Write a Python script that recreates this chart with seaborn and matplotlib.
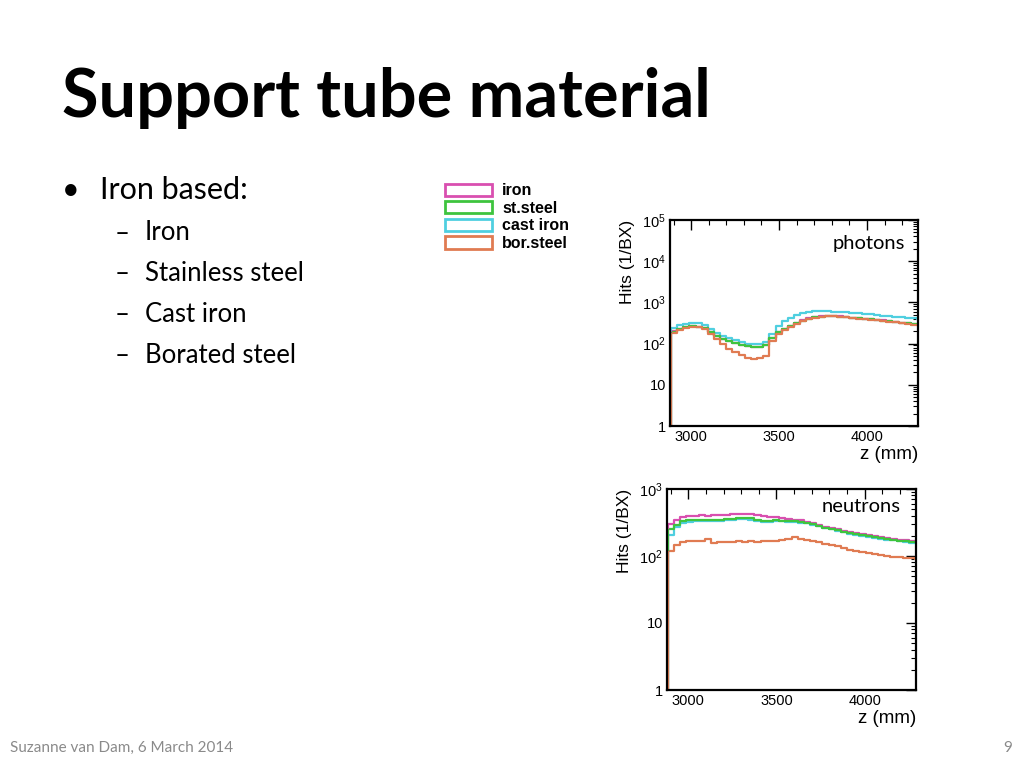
import numpy as np
import pandas as pd
import matplotlib
matplotlib.use("Agg")
import matplotlib.pyplot as plt
import matplotlib.ticker as mticker
from matplotlib.patches import Patch
import seaborn as sns

# ---------------- data ----------------
materials = ["iron", "st.steel", "cast iron", "bor.steel"]
colors = ["#d94fb0", "#3ec43e", "#4fcfe0", "#e07b52"]
draw_order = ["cast iron", "iron", "st.steel", "bor.steel"]

# bin edges in z (mm): 41 bins of 35 mm starting at 2885
bin_width = 35
bin_start = 2885
n_bins = 41

photons_iron = [200, 232, 258, 265, 260, 243, 195, 152, 131, 115, 102, 93, 87, 84, 85, 93,
                136, 190, 230, 270, 315, 365, 408, 438, 458, 468, 465, 456, 442, 428, 416,
                406, 392, 378, 364, 352, 338, 324, 312, 300, 294]
photons_ststeel = [195, 228, 255, 262, 258, 240, 192, 150, 130, 114, 101, 92, 86, 83, 84, 92,
                   135, 188, 228, 268, 312, 362, 404, 434, 454, 464, 461, 452, 438, 424, 412,
                   402, 388, 374, 360, 348, 334, 320, 308, 296, 290]
photons_castiron = [245, 280, 305, 315, 312, 290, 230, 178, 155, 140, 122, 108, 100, 96, 98, 112,
                    175, 265, 345, 430, 500, 555, 595, 612, 615, 610, 598, 585, 570, 555, 540,
                    525, 510, 495, 480, 465, 452, 438, 424, 410, 400]
photons_borsteel = [180, 215, 242, 250, 246, 225, 172, 130, 96, 76, 62, 52, 45, 43, 44, 50,
                    118, 172, 215, 258, 305, 355, 398, 428, 448, 458, 455, 446, 432, 418, 406,
                    396, 382, 368, 354, 342, 328, 314, 302, 290, 284]

neutrons_iron = [300, 345, 385, 395, 400, 405, 402, 404, 408, 412, 420, 430, 428, 420, 410, 395,
                 382, 378, 372, 360, 350, 340, 325, 310, 290, 275, 262, 250, 238, 228, 220,
                 212, 205, 198, 192, 186, 180, 176, 172, 168, 166]
neutrons_ststeel = [255, 295, 330, 340, 345, 348, 345, 343, 350, 352, 358, 368, 372, 365, 345, 335,
                    338, 340, 338, 335, 330, 322, 312, 298, 282, 266, 254, 242, 230, 220, 212,
                    205, 198, 192, 186, 180, 175, 170, 166, 162, 160]
neutrons_castiron = [205, 272, 312, 326, 331, 336, 333, 331, 336, 339, 343, 351, 356, 349, 332, 322,
                     327, 331, 329, 327, 323, 316, 307, 293, 278, 263, 250, 238, 226, 216, 208,
                     201, 194, 188, 182, 176, 171, 166, 162, 158, 156]
neutrons_borsteel = [120, 148, 160, 165, 168, 170, 178, 158, 162, 160, 164, 166, 162, 165, 163, 166,
                     165, 170, 172, 180, 192, 180, 172, 168, 160, 152, 146, 140, 132, 124, 120,
                     114, 110, 108, 104, 100, 98, 95, 93, 92, 91]

bullet_main = "Iron based:"
bullet_sub = ["Iron", "Stainless steel", "Cast iron", "Borated steel"]
title = "Support tube material"
footer = "Suzanne van Dam, 6 March 2014"
page = "9"

photon_series = dict(zip(materials, [photons_iron, photons_ststeel, photons_castiron, photons_borsteel]))
neutron_series = dict(zip(materials, [neutrons_iron, neutrons_ststeel, neutrons_castiron, neutrons_borsteel]))

edges = bin_start + bin_width * np.arange(n_bins + 1)


def make_df(series):
    rows = []
    for mat in draw_order:
        vals = list(series[mat])
        ys = vals + [vals[-1]]
        for x, y in zip(edges, ys):
            rows.append({"z": x, "hits": y, "material": mat})
    return pd.DataFrame(rows)


# ---------------- figure ----------------
sns.set_style("white")
plt.rcParams["font.family"] = ["Lato", "DejaVu Sans"]
plt.rcParams["text.color"] = "black"
plt.rcParams["axes.labelcolor"] = "black"
plt.rcParams["xtick.color"] = "black"
plt.rcParams["ytick.color"] = "black"

fig = plt.figure(figsize=(10.24, 7.68), dpi=100)
fig.patch.set_facecolor("white")

palette = dict(zip(materials, colors))
axis_font = ["Liberation Sans", "DejaVu Sans"]


def style_axis(ax, ymax):
    ax.set_yscale("log")
    ax.set_xlim(2880, 4290)
    ax.set_ylim(1, ymax)
    ax.xaxis.set_major_locator(mticker.MultipleLocator(500))
    ax.xaxis.set_minor_locator(mticker.MultipleLocator(100))
    ax.yaxis.set_major_locator(mticker.LogLocator(base=10, numticks=10))
    ax.yaxis.set_minor_locator(mticker.LogLocator(base=10, subs=np.arange(2, 10), numticks=10))

    def fmt(v, pos):
        if v <= 0:
            return ""
        e = int(round(np.log10(v)))
        if e == 0:
            return "1"
        if e == 1:
            return "10"
        return r"$\mathregular{10^{%d}}$" % e

    ax.yaxis.set_major_formatter(mticker.FuncFormatter(fmt))
    ax.yaxis.set_minor_formatter(mticker.NullFormatter())
    ax.tick_params(which="both", direction="in", top=True, right=True, color="black",
                   labelcolor="black")
    ax.tick_params(which="major", length=7, width=1.0, labelsize=10.5, pad=3)
    ax.tick_params(which="minor", length=3.5, width=0.8)
    for lab in ax.get_xticklabels() + ax.get_yticklabels():
        lab.set_fontfamily(axis_font)
    for sp in ax.spines.values():
        sp.set_linewidth(1.6)
        sp.set_color("black")
    ax.set_xlabel("")
    ax.set_ylabel("Hits (1/BX)", fontsize=12.5, family=axis_font, labelpad=5, loc="top",
                  color="black")
    ax.text(1.0, -0.14, "z (mm)", transform=ax.transAxes, ha="right", va="center",
            fontsize=13.5, family=axis_font, color="black")


def draw(ax, series, ymax, label, lx, ly):
    df = make_df(series)
    sns.lineplot(data=df, x="z", y="hits", hue="material", palette=palette,
                 hue_order=draw_order, estimator=None, drawstyle="steps-post",
                 linewidth=1.6, legend=False, ax=ax)
    for mat in draw_order:
        ax.vlines(edges[0], 1, series[mat][0], color=palette[mat], linewidth=1.6)
    style_axis(ax, ymax)
    ax.text(lx, ly, label, transform=ax.transAxes, ha="right", va="center",
            fontsize=14.5, family=["Lato", "DejaVu Sans"], color="black")


ax1 = fig.add_axes([670 / 1024, 1 - 426 / 768, 248 / 1024, 206 / 768])
draw(ax1, photon_series, 1e5, "photons", 0.948, 0.888)

ax2 = fig.add_axes([667 / 1024, 1 - 690 / 768, 249 / 1024, 201 / 768])
draw(ax2, neutron_series, 1e3, "neutrons", 0.94, 0.915)

# legend
handles = [Patch(facecolor="white", edgecolor=c, linewidth=2.0, label=m)
           for m, c in zip(materials, colors)]
leg = fig.legend(handles=handles, loc="upper left",
                 bbox_to_anchor=(431 / 1024, 1 - 169 / 768),
                 frameon=False, handlelength=2.95, handleheight=0.8,
                 labelspacing=0.16, handletextpad=0.6,
                 prop={"family": axis_font, "weight": "bold", "size": 11.5})
for t in leg.get_texts():
    t.set_color("black")

# slide text
fig.text(62 / 1024, 1 - 117 / 768, title, fontsize=48, fontweight="bold",
         ha="left", va="baseline", color="black")
fig.text(62 / 1024, 1 - 190 / 768, "\u2022", fontsize=22, ha="left", va="center")
fig.text(100 / 1024, 1 - 190 / 768, bullet_main, fontsize=22, ha="left", va="center")
for i, s in enumerate(bullet_sub):
    y = 1 - (233 + i * 40.7) / 768
    fig.text(115 / 1024, y, "\u2013", fontsize=18.5, ha="left", va="center")
    fig.text(145 / 1024, y, s, fontsize=18.5, ha="left", va="center")

fig.text(10 / 1024, 1 - 748 / 768, footer, fontsize=11, color="#8a8a8a",
         ha="left", va="center")
fig.text(1012 / 1024, 1 - 748 / 768, page, fontsize=11, color="#8a8a8a",
         ha="right", va="center")

fig.savefig("out.png", dpi=100, facecolor="white")
